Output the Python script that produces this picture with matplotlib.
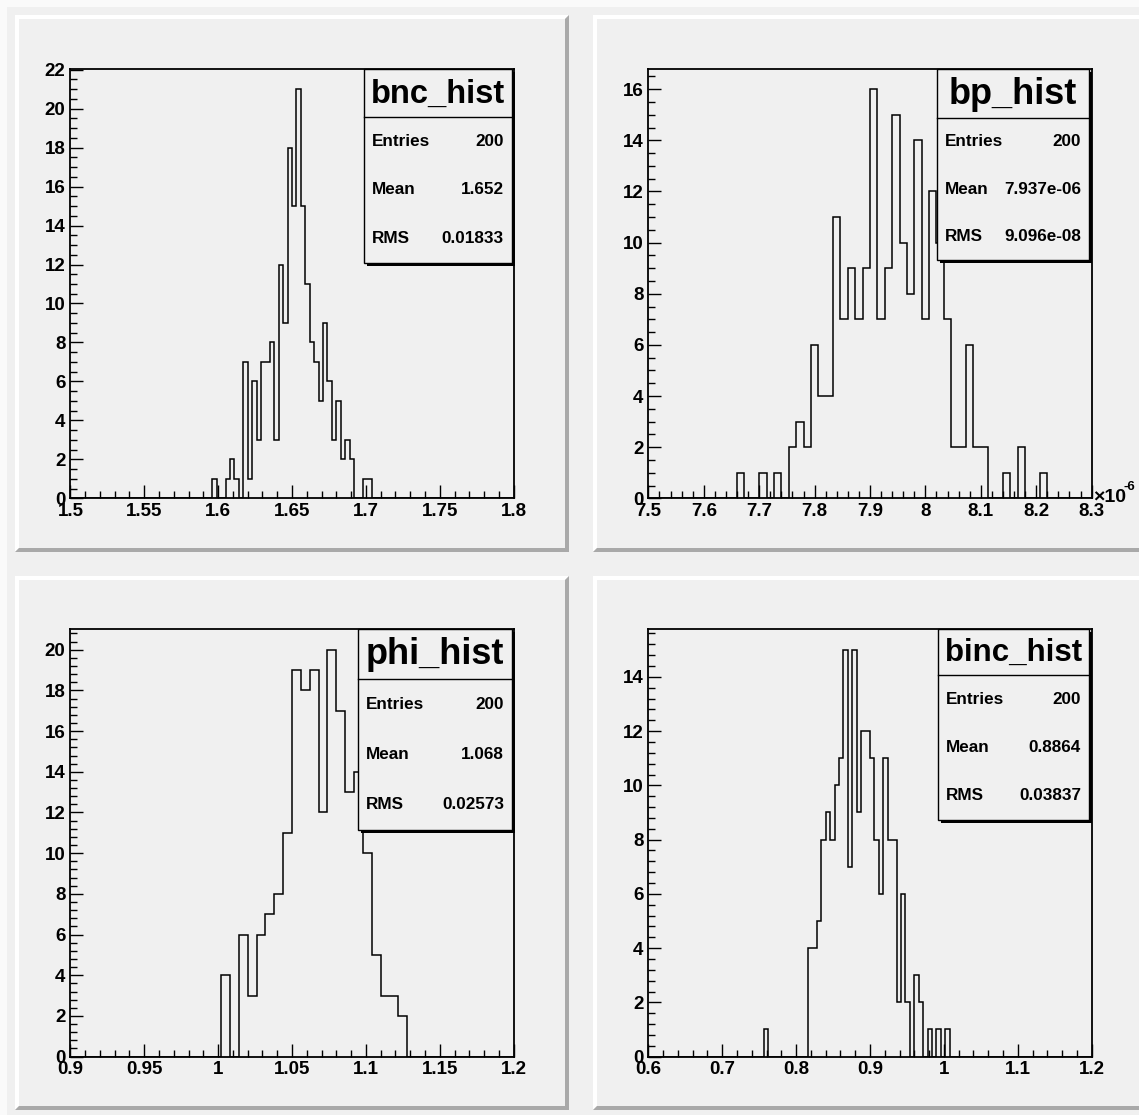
import numpy as np
import matplotlib
matplotlib.use("Agg")
import matplotlib.pyplot as plt
from matplotlib.patches import Polygon, Rectangle
from matplotlib.ticker import FixedLocator, FuncFormatter

plt.rcParams['font.family'] = ['Liberation Sans', 'DejaVu Sans']
plt.rcParams['font.weight'] = 'bold'

names = ["bnc_hist", "bp_hist", "phi_hist", "binc_hist"]
x_ranges = [(1.5, 1.8), (7.5, 8.3), (0.9, 1.2), (0.6, 1.2)]   # bp in units of 1e-6
n_bins = [100, 60, 50, 100]

bnc_first = 32
bnc_counts = [1, 0, 0, 1, 2, 1, 0, 7, 1, 6, 3, 7, 7, 8, 3, 12, 9, 18, 15, 21,
              15, 11, 8, 7, 5, 9, 6, 3, 5, 2, 3, 2, 0, 0, 1, 1]
bp_first = 12
bp_counts = [1, 0, 0, 1, 0, 1, 0, 2, 3, 2, 6, 4, 4, 11, 7, 9, 7, 9, 16, 7,
             9, 15, 10, 8, 14, 7, 12, 10, 7, 2, 2, 6, 2, 2, 0, 0, 1, 0, 2, 0,
             0, 1]
phi_first = 17
phi_counts = [4, 0, 6, 3, 6, 7, 8, 11, 19, 18, 19, 12, 20, 17, 13, 14, 10, 5,
              3, 3, 2]
binc_first = 26
binc_counts = [1, 0, 0, 0, 0, 0, 0, 0, 0, 0, 4, 4, 5, 8, 9, 8, 10, 11, 15, 7,
               15, 9, 12, 12, 11, 8, 6, 11, 8, 8, 2, 6, 2, 0, 3, 2, 0, 1, 0, 1,
               0, 1]
firsts = [bnc_first, bp_first, phi_first, binc_first]
partial_counts = [bnc_counts, bp_counts, phi_counts, binc_counts]

entries = ["200", "200", "200", "200"]
means = ["1.652", "7.937e-06", "1.068", "0.8864"]
rmss = ["0.01833", "9.096e-08", "0.02573", "0.03837"]

x_major = [0.05, 0.1, 0.05, 0.1]
x_minor = [0.01, 0.02, 0.01, 0.02]
y_minor = [0.5, 0.5, 0.4, 0.4]

# --- layout in canvas pixels ---
W, H = 1139, 1115
pads = [(15, 15, 569, 552), (593, 15, 1147, 552),
        (15, 576, 569, 1110), (593, 576, 1147, 1110)]
# stat boxes: x0, y0, x1, y1, title divider y
boxes = [(364, 69, 512, 263, 117), (937, 69, 1089, 260, 118),
         (358, 629, 512, 830, 679), (938, 629, 1089, 820, 675)]

GRAY = '#f0f0f0'

fig = plt.figure(figsize=(W / 100, H / 100), dpi=100, facecolor=GRAY)

bg = fig.add_axes([0, 0, 1, 1])
bg.set_xlim(0, W)
bg.set_ylim(H, 0)
bg.axis('off')

# canvas highlight
bg.add_patch(Polygon([(0, 0), (W, 0), (W, 7), (7, 7), (7, H), (0, H)],
                     closed=True, facecolor='#fafafa', edgecolor='none'))

b = 4
for (x0, y0, x1, y1) in pads:
    bg.add_patch(Rectangle((x0, y0), x1 - x0, y1 - y0, facecolor=GRAY,
                           edgecolor='none'))
    bg.add_patch(Polygon([(x0, y0), (x1, y0), (x1 - b, y0 + b), (x0 + b, y0 + b),
                          (x0 + b, y1 - b), (x0, y1)], closed=True,
                         facecolor='white', edgecolor='none'))
    bg.add_patch(Polygon([(x1, y0), (x1, y1), (x0, y1), (x0 + b, y1 - b),
                          (x1 - b, y1 - b), (x1 - b, y0 + b)], closed=True,
                         facecolor='#a9a9a9', edgecolor='none'))


def fmt(v, pos):
    s = f"{v:.4f}".rstrip('0').rstrip('.')
    return s


for i in range(4):
    x0, y0, x1, y1 = pads[i]
    fx0 = x0 + 0.1 * (x1 - x0)
    fx1 = x1 - 0.1 * (x1 - x0)
    fy0 = y0 + 0.1 * (y1 - y0)
    fy1 = y1 - 0.1 * (y1 - y0)
    ax = fig.add_axes([fx0 / W, 1 - fy1 / H, (fx1 - fx0) / W, (fy1 - fy0) / H])
    ax.set_facecolor(GRAY)

    lo, hi = x_ranges[i]
    edges = np.linspace(lo, hi, n_bins[i] + 1)
    counts = np.zeros(n_bins[i])
    counts[firsts[i]:firsts[i] + len(partial_counts[i])] = partial_counts[i]
    ax.stairs(counts, edges, color='black', lw=1.1)

    ymax = counts.max() * 1.05
    ax.set_xlim(lo, hi)
    ax.set_ylim(0, ymax)

    nmaj = int(round((hi - lo) / x_major[i]))
    nmin = int(round((hi - lo) / x_minor[i]))
    ax.xaxis.set_major_locator(FixedLocator(np.linspace(lo, hi, nmaj + 1)))
    ax.xaxis.set_minor_locator(FixedLocator(np.linspace(lo, hi, nmin + 1)))
    ax.xaxis.set_major_formatter(FuncFormatter(fmt))
    ax.yaxis.set_major_locator(FixedLocator(np.arange(0, ymax, 2)))
    ax.yaxis.set_minor_locator(FixedLocator(np.arange(0, ymax, y_minor[i])))

    ax.tick_params(which='both', direction='in', top=False, right=False,
                   labelsize=13.5, pad=3.5, width=1.0)
    ax.tick_params(which='major', length=9.4)
    ax.tick_params(which='minor', length=4.7)
    for sp in ax.spines.values():
        sp.set_linewidth(1.3)

# overlay for stat boxes and exponent
ov = fig.add_axes([0, 0, 1, 1])
ov.set_xlim(0, W)
ov.set_ylim(H, 0)
ov.axis('off')
ov.patch.set_alpha(0)

renderer = fig.canvas.get_renderer()

for i in range(4):
    bx0, by0, bx1, by1, dv = boxes[i]
    ov.add_patch(Rectangle((bx0 + 3, by0 + 3), bx1 - bx0, by1 - by0,
                           facecolor='black', edgecolor='none'))
    ov.add_patch(Rectangle((bx0, by0), bx1 - bx0, by1 - by0,
                           facecolor=GRAY, edgecolor='black', lw=1.0))
    ov.plot([bx0, bx1], [dv, dv], color='black', lw=1.0)
    t = ov.text((bx0 + bx1) / 2, (by0 + dv) / 2 + 1, names[i], ha='center',
                va='center', fontsize=26, fontweight='bold')
    # shrink the title to the box width, like ROOT's auto text size
    tw = t.get_window_extent(renderer=renderer).width
    maxw = (bx1 - bx0) - 14
    if tw > maxw:
        t.set_fontsize(26 * maxw / tw)
    step = (by1 - dv) / 3
    rows = [("Entries", entries[i]), ("Mean", means[i]), ("RMS", rmss[i])]
    for k, (lab, val) in enumerate(rows):
        yc = dv + (k + 0.5) * step
        ov.text(bx0 + 8, yc, lab, ha='left', va='center', fontsize=12.3,
                fontweight='bold')
        ov.text(bx1 - 8, yc, val, ha='right', va='center', fontsize=12.3,
                fontweight='bold')

# x10^-6 for the bp axis
ov.text(1093, 498, "\u00d710", ha='left', va='center', fontsize=14,
        fontweight='bold')
ov.text(1124, 487, "-6", ha='left', va='center', fontsize=9.5,
        fontweight='bold')

fig.savefig("out.png", dpi=100, facecolor=GRAY)
